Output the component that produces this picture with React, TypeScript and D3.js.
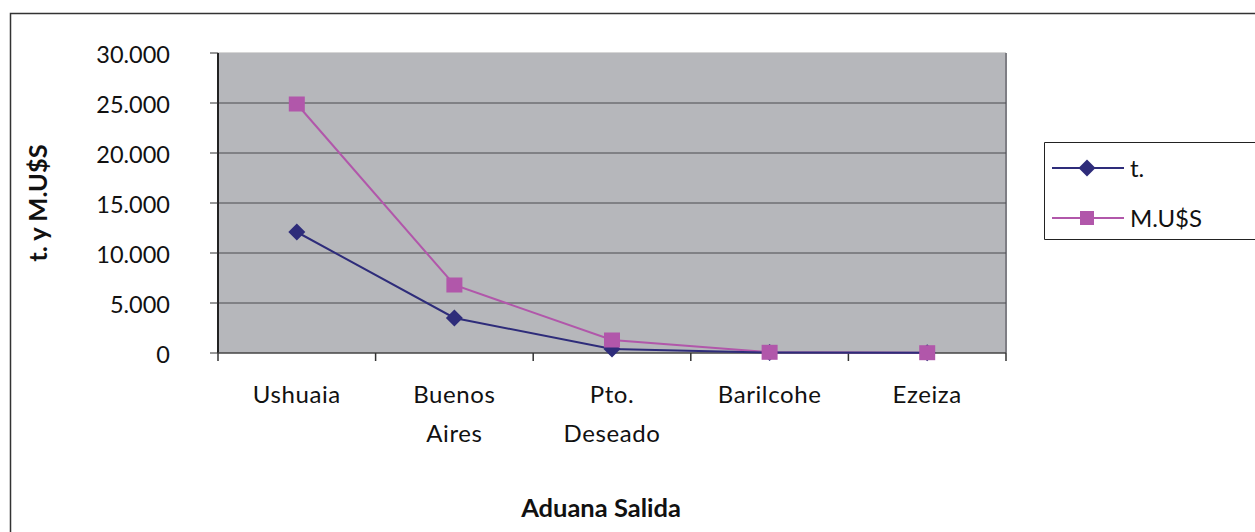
import React from "react";
import * as d3 from "d3";

const categories: string[][] = [["Ushuaia"], ["Buenos", "Aires"], ["Pto.", "Deseado"], ["Barilcohe"], ["Ezeiza"]];
const seriesT = [12100, 3500, 400, 40, 20];
const seriesM = [24900, 6800, 1300, 70, 30];
const yTicks = [0, 5000, 10000, 15000, 20000, 25000, 30000];
const tickLabels = ["0", "5.000", "10.000", "15.000", "20.000", "25.000", "30.000"];
const seriesNames = ["t.", "M.U$S"];

const W = 1255, H = 532;
const plot = { left: 218, right: 1006, top: 53, bottom: 353 };
const colT = "#2E2C7A";
const colM = "#B157AA";
const FONT = "Lato, 'Open Sans', sans-serif";

export default function App() {
  const x = d3.scaleBand<number>().domain(d3.range(categories.length)).range([plot.left, plot.right]).padding(0);
  const y = d3.scaleLinear().domain([0, 30000]).range([plot.bottom, plot.top]);
  const cx = (i: number) => (x(i) as number) + x.bandwidth() / 2;
  const line = d3.line<number>().x((_, i) => cx(i)).y((d) => y(d));
  const diamond = (px: number, py: number, r: number) =>
    `M${px},${py - r}L${px + r},${py}L${px},${py + r}L${px - r},${py}Z`;

  return (
    <svg width={W} height={H} style={{ position: "absolute", left: 0, top: 0, background: "#fff" }} fontFamily={FONT}>
      {/* outer frame */}
      <path d={`M10.5,${H + 2}V13.5H${W + 2}`} fill="none" stroke="#333" strokeWidth={1.5} />
      {/* plot area */}
      <rect x={plot.left} y={plot.top} width={plot.right - plot.left} height={plot.bottom - plot.top} fill="#B6B7BB" />
      <line x1={plot.left} x2={plot.right} y1={plot.top - 0.5} y2={plot.top - 0.5} stroke="#D6D6D6" strokeWidth={1} />
      <line x1={plot.right} x2={plot.right} y1={plot.top} y2={plot.bottom} stroke="#7E7E84" strokeWidth={2} />
      {yTicks.filter((t) => t > 0 && t < 30000).map((t) => (
        <line key={t} x1={plot.left} x2={plot.right} y1={y(t)} y2={y(t)} stroke="#4A4A4E" strokeWidth={1} />
      ))}
      {/* y axis */}
      <line x1={plot.left} x2={plot.left} y1={plot.top} y2={plot.bottom} stroke="#222" strokeWidth={2} />
      {yTicks.map((t, i) => (
        <g key={t}>
          <line x1={plot.left - 8} x2={plot.left} y1={y(t)} y2={y(t)} stroke="#333" strokeWidth={1} />
          <text x={170} y={y(t)} dy="0.42em" textAnchor="end" fontSize={23.5} fill="#111">{tickLabels[i]}</text>
        </g>
      ))}
      {/* x axis */}
      <line x1={plot.left} x2={plot.right} y1={plot.bottom} y2={plot.bottom} stroke="#444" strokeWidth={1.5} />
      {d3.range(categories.length + 1).map((i) => {
        const xx = i < categories.length ? (x(i) as number) : plot.right;
        return <line key={i} x1={xx} x2={xx} y1={plot.bottom} y2={plot.bottom + 8} stroke="#333" strokeWidth={1.5} />;
      })}
      {categories.map((lines, i) => (
        <text key={i} x={cx(i)} y={403} textAnchor="middle" fontSize={24} letterSpacing={0.6} fill="#111">
          {lines.map((l, j) => (
            <tspan key={j} x={cx(i)} dy={j === 0 ? 0 : 39}>{l}</tspan>
          ))}
        </text>
      ))}
      {/* series */}
      <path d={line(seriesM) as string} fill="none" stroke={colM} strokeWidth={2} />
      <path d={line(seriesT) as string} fill="none" stroke={colT} strokeWidth={2} />
      {seriesT.map((v, i) => (
        <path key={"t" + i} d={diamond(cx(i), y(v), 8.5)} fill={colT} />
      ))}
      {seriesM.map((v, i) => (
        <rect key={"m" + i} x={cx(i) - 8} y={y(v) - 7.5} width={16} height={15} fill={colM} />
      ))}
      {/* axis titles */}
      <text x={601} y={517} textAnchor="middle" fontSize={25.5} fontWeight="bold" fill="#111">Aduana Salida</text>
      <text transform={`translate(47,${(plot.top + plot.bottom) / 2}) rotate(-90)`} textAnchor="middle" fontSize={25.5} fontWeight="bold" fill="#111">t. y M.U$S</text>
      {/* legend */}
      <path d={`M${W + 2},142.5H1044.5V239.5H${W + 2}`} fill="#fff" stroke="#222" strokeWidth={1} />
      <line x1={1052} x2={1124} y1={168} y2={168} stroke={colT} strokeWidth={2} />
      <path d={diamond(1087, 168, 8.5)} fill={colT} />
      <text x={1130} y={168} dy="0.38em" fontSize={24} fill="#111">{seriesNames[0]}</text>
      <line x1={1052} x2={1124} y1={218} y2={218} stroke={colM} strokeWidth={2} />
      <rect x={1080} y={211} width={14} height={14} fill={colM} />
      <text x={1130} y={218} dy="0.38em" fontSize={24} fill="#111">{seriesNames[1]}</text>
    </svg>
  );
}
